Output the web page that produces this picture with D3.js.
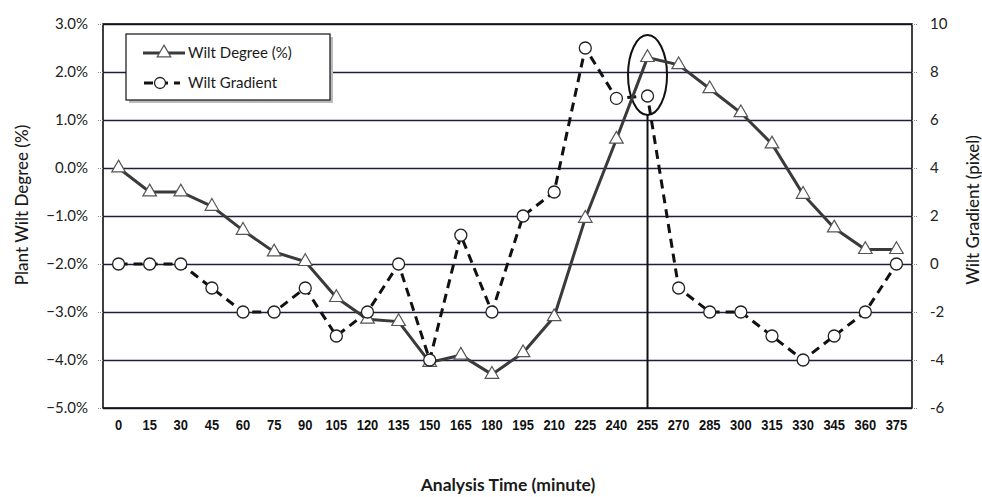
<!DOCTYPE html>
<html>
<head>
<meta charset="utf-8">
<script src="https://cdn.jsdelivr.net/npm/d3@7"></script>
<style>
  html, body { margin: 0; padding: 0; background: #fff; }
  svg { display: block; }
</style>
</head>
<body>
<svg id="chart" width="982" height="497"></svg>
<script>
// ---- data ----
const times = [0, 15, 30, 45, 60, 75, 90, 105, 120, 135, 150, 165, 180, 195, 210, 225, 240, 255, 270, 285, 300, 315, 330, 345, 360, 375];
const wiltDegree = [0.0, -0.5, -0.5, -0.8, -1.3, -1.75, -1.95, -2.7, -3.15, -3.2, -4.05, -3.9, -4.3, -3.85, -3.1, -1.05, 0.6, 2.3, 2.15, 1.65, 1.15, 0.5, -0.55, -1.25, -1.7, -1.7];
const wiltGradient = [0, 0, 0, -1, -2, -2, -1, -3, -2, 0, -4, 1.2, -2, 2, 3, 9, 6.9, 7, -1, -2, -2, -3, -4, -3, -2, 0];
const leftTicks = [3, 2, 1, 0, -1, -2, -3, -4, -5];
const rightTicks = [10, 8, 6, 4, 2, 0, -2, -4, -6];
const seriesNames = ["Wilt Degree (%)", "Wilt Gradient"];
const highlightTime = 255;

// ---- layout ----
const L = 103, R = 912, T = 24, B = 408;
const svg = d3.select("#chart");
const font = "Lato, 'Open Sans', sans-serif";

const x = d3.scaleBand().domain(times).range([L, R]).padding(0);
const cx = t => x(t) + x.bandwidth() / 2;
const yL = d3.scaleLinear().domain([-5, 3]).range([B, T]);
const yR = d3.scaleLinear().domain([-6, 10]).range([B, T]);

// gridlines
svg.append("g").selectAll("line").data(leftTicks).join("line")
  .attr("x1", L).attr("x2", R)
  .attr("y1", d => Math.round(yL(d)) + 0.5).attr("y2", d => Math.round(yL(d)) + 0.5)
  .attr("stroke", "#1e1e40").attr("stroke-width", 1.3);

// frame
svg.append("rect").attr("x", L).attr("y", T).attr("width", R - L).attr("height", B - T)
  .attr("fill", "none").attr("stroke", "#111").attr("stroke-width", 1.6);

// left axis
const gL = svg.append("g").attr("transform", `translate(${L},0)`)
  .call(d3.axisLeft(yL).tickValues(leftTicks).tickSize(5).tickPadding(10)
    .tickFormat(d => d3.format(".1f")(d) + "%"));
gL.select(".domain").remove();
gL.selectAll(".tick line").attr("stroke", "#888").attr("stroke-dasharray", "1,1");
gL.selectAll(".tick text").attr("font-family", font).attr("font-size", 15).attr("fill", "#222");

// right axis
const gR = svg.append("g").attr("transform", `translate(${R},0)`)
  .call(d3.axisRight(yR).tickValues(rightTicks).tickSize(5).tickPadding(13));
gR.select(".domain").remove();
gR.selectAll(".tick line").attr("stroke", "#888").attr("stroke-dasharray", "1,1");
gR.selectAll(".tick text").attr("font-family", font).attr("font-size", 15).attr("fill", "#222")
  .text(d => d < 0 ? "-" + Math.abs(d) : d);

// bottom axis labels
const gB = svg.append("g").attr("transform", `translate(0,${B})`)
  .call(d3.axisBottom(x).tickSize(0).tickPadding(12));
gB.select(".domain").remove();
gB.selectAll(".tick text")
  .attr("font-family", "'Liberation Sans Narrow', 'Arial Narrow', 'Liberation Sans', sans-serif")
  .attr("font-weight", "bold").attr("font-size", 14.5).attr("fill", "#111")
  .attr("textLength", d => String(d).length * 7.2)
  .attr("lengthAdjust", "spacingAndGlyphs");

// titles
svg.append("text").attr("transform", `translate(28,205) rotate(-90)`)
  .attr("text-anchor", "middle").attr("font-family", font).attr("font-size", 17)
  .attr("font-weight", 500).attr("fill", "#1a1a1a").text("Plant Wilt Degree (%)");
svg.append("text").attr("transform", `translate(979,210) rotate(-90)`)
  .attr("text-anchor", "middle").attr("font-family", font).attr("font-size", 17)
  .attr("font-weight", 500).attr("fill", "#1a1a1a").text("Wilt Gradient (pixel)");
svg.append("text").attr("x", 508).attr("y", 491)
  .attr("text-anchor", "middle").attr("font-family", font).attr("font-size", 17.5)
  .attr("font-weight", "bold").attr("fill", "#1a1a1a").text("Analysis Time (minute)");

// highlight marker line + ellipse
const hx = cx(highlightTime);
svg.append("line").attr("x1", hx).attr("x2", hx).attr("y1", 115).attr("y2", B)
  .attr("stroke", "#111").attr("stroke-width", 2);
svg.append("ellipse").attr("cx", hx).attr("cy", 75).attr("rx", 19.5).attr("ry", 40)
  .attr("fill", "none").attr("stroke", "#111").attr("stroke-width", 2);

// series lines
const lineDeg = d3.line().x((d, i) => cx(times[i])).y(d => yL(d));
const lineGrad = d3.line().x((d, i) => cx(times[i])).y(d => yR(d));

svg.append("path").attr("d", lineGrad(wiltGradient)).attr("fill", "none")
  .attr("stroke", "#111").attr("stroke-width", 3).attr("stroke-dasharray", "9,6");
svg.append("path").attr("d", lineDeg(wiltDegree)).attr("fill", "none")
  .attr("stroke", "#3a3a3a").attr("stroke-width", 3);

const tri = d3.symbol().type(d3.symbolTriangle).size(80);
svg.append("g").selectAll("path").data(wiltDegree).join("path")
  .attr("transform", (d, i) => `translate(${cx(times[i])},${yL(d)})`)
  .attr("d", tri()).attr("fill", "#fff").attr("stroke", "#555").attr("stroke-width", 1.2);

svg.append("g").selectAll("circle").data(wiltGradient).join("circle")
  .attr("cx", (d, i) => cx(times[i])).attr("cy", d => yR(d)).attr("r", 6)
  .attr("fill", "#fff").attr("stroke", "#222").attr("stroke-width", 1.3);

// legend
const lg = svg.append("g");
lg.append("rect").attr("x", 129).attr("y", 37).attr("width", 204).attr("height", 66).attr("fill", "#bbb");
lg.append("rect").attr("x", 126).attr("y", 34).attr("width", 204).attr("height", 66)
  .attr("fill", "#fff").attr("stroke", "#111").attr("stroke-width", 1.2);
// entry 1
lg.append("line").attr("x1", 143).attr("x2", 185).attr("y1", 53).attr("y2", 53)
  .attr("stroke", "#3a3a3a").attr("stroke-width", 3);
lg.append("path").attr("transform", "translate(164,53)").attr("d", tri())
  .attr("fill", "#fff").attr("stroke", "#555").attr("stroke-width", 1.2);
lg.append("text").attr("x", 188).attr("y", 58).attr("font-family", font).attr("font-size", 15)
  .attr("fill", "#1a1a1a").text(seriesNames[0]);
// entry 2
lg.append("line").attr("x1", 144).attr("x2", 180).attr("y1", 83).attr("y2", 83)
  .attr("stroke", "#111").attr("stroke-width", 3).attr("stroke-dasharray", "9,6");
lg.append("circle").attr("cx", 160).attr("cy", 83).attr("r", 5.5)
  .attr("fill", "#fff").attr("stroke", "#222").attr("stroke-width", 1.3);
lg.append("text").attr("x", 188).attr("y", 88).attr("font-family", font).attr("font-size", 15)
  .attr("fill", "#1a1a1a").text(seriesNames[1]);
</script>
</body>
</html>
